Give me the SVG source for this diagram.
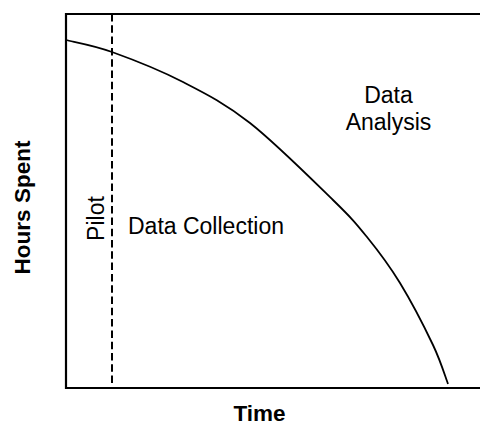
<svg xmlns="http://www.w3.org/2000/svg" width="480" height="426" viewBox="0 0 480 426">
<style>
.ax{stroke:#000;stroke-width:2.2;fill:none}
.curve{stroke:#000;stroke-width:1.8;fill:none}
.dash{stroke:#000;stroke-width:2;stroke-dasharray:7.5 3.8;fill:none}
text{font-family:"Liberation Sans",Arial,Helvetica,sans-serif;font-size:23px;fill:#000}
.b{font-weight:bold;font-size:22.5px}
</style>
<rect width="480" height="426" fill="#fff"/>
<g id="axes">
<path class="ax" d="M480,14 H66 V388 H480"/>
</g>
<g id="connectors">
<line id="pilot-divider" class="dash" x1="112" y1="14" x2="112" y2="388"/>
<path id="curve" class="curve" d="M66,40 C73.7,42 92.5,45 112,52 C131.5,59 160,70.2 183,82 C206,93.8 225,103.3 250,123 C275,142.7 313.5,181 333,200 C352.5,219 355.8,223.2 367,237 C378.2,250.8 389,265 400,283 C411,301 425,328.2 433,345 C441,361.8 445.5,377.5 448,384"/>
</g>
<g id="y-label"><text class="b" text-anchor="middle" transform="translate(30,207.5) rotate(-90)">Hours Spent</text></g>
<g id="x-label"><text class="b" text-anchor="middle" x="259.5" y="421">Time</text></g>
<g id="pilot"><text text-anchor="middle" transform="translate(104,218.5) rotate(-90)">Pilot</text></g>
<g id="data-collection"><text x="128" y="234">Data Collection</text></g>
<g id="data-analysis"><text text-anchor="middle" x="388.5" y="103">Data</text><text text-anchor="middle" x="388.5" y="130">Analysis</text></g>
</svg>
